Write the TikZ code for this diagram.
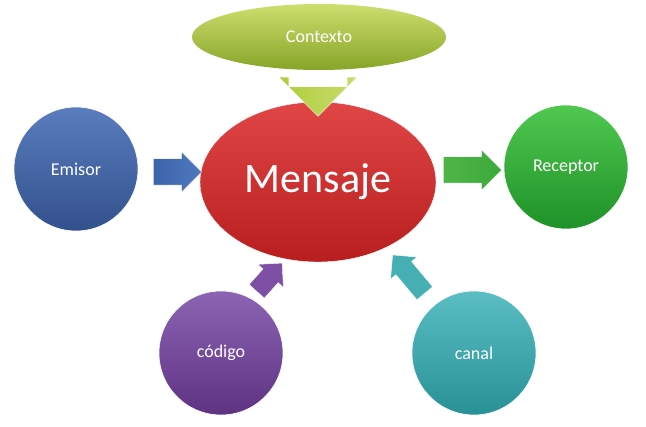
\documentclass[tikz,border=0pt]{standalone}
\usepackage{fontspec}
\setmainfont{Carlito}
\usetikzlibrary{shapes.geometric,shapes.arrows}
\begin{document}
\begin{tikzpicture}[x=1pt,y=-1pt,
  bub/.style={circle,minimum size=124pt,inner sep=0pt,text=white,font=\fontsize{18}{21}\selectfont,draw=white,line width=0.6pt},
  arr/.style={single arrow,single arrow head extend=7pt,minimum height=#1,inner xsep=0pt,inner ysep=0pt,draw=white,line width=0.4pt}]
\useasboundingbox (0,0) rectangle (646,427);
\node[ellipse,minimum width=254pt,minimum height=66pt,top color={rgb,255:red,205;green,222;blue,110},bottom color={rgb,255:red,135;green,165;blue,40},text=white,font=\fontsize{18}{21}\selectfont] (ctx) at (319,37) {Contexto};
\node[ellipse,minimum width=236pt,minimum height=160pt,top color={rgb,255:red,225;green,70;blue,70},bottom color={rgb,255:red,185;green,30;blue,30},draw=white,text=white,font=\fontsize{42}{48}\selectfont] (msg) at (318,182) {Mensaje};
\node[bub,top color={rgb,255:red,90;green,125;blue,190},bottom color={rgb,255:red,50;green,80;blue,140}] (em) at (76,169) {Emisor};
\node[bub,top color={rgb,255:red,80;green,200;blue,80},bottom color={rgb,255:red,30;green,145;blue,40}] (rec) at (566,167) {Receptor};
\node[bub,top color={rgb,255:red,140;green,100;blue,180},bottom color={rgb,255:red,95;green,50;blue,130}] (cod) at (221,353) {código};
\node[bub,top color={rgb,255:red,90;green,190;blue,195},bottom color={rgb,255:red,40;green,145;blue,150}] (can) at (474,353) {canal};
\node[arr=20pt,single arrow head extend=10pt,rotate=-90,shading angle=90,left color={rgb,255:red,175;green,205;blue,60},right color={rgb,255:red,200;green,220;blue,110}] (a1) at (318,87) {\rule{0pt}{58pt}};
\node[arr=48pt,left color={rgb,255:red,60;green,100;blue,170},right color={rgb,255:red,80;green,120;blue,190}] (a2) at (171,172) {\rule{0pt}{26pt}};
\node[arr=58pt,left color={rgb,255:red,80;green,180;blue,70},right color={rgb,255:red,60;green,170;blue,60}] (a3) at (466,170) {\rule{0pt}{26pt}};
\node[arr=38pt,rotate=48,fill={rgb,255:red,125;green,80;blue,165}] (a4) at (266,281) {\rule{0pt}{20pt}};
\node[arr=50pt,rotate=130,fill={rgb,255:red,70;green,175;blue,180}] (a5) at (412,278) {\rule{0pt}{20pt}};
\end{tikzpicture}
\end{document}
